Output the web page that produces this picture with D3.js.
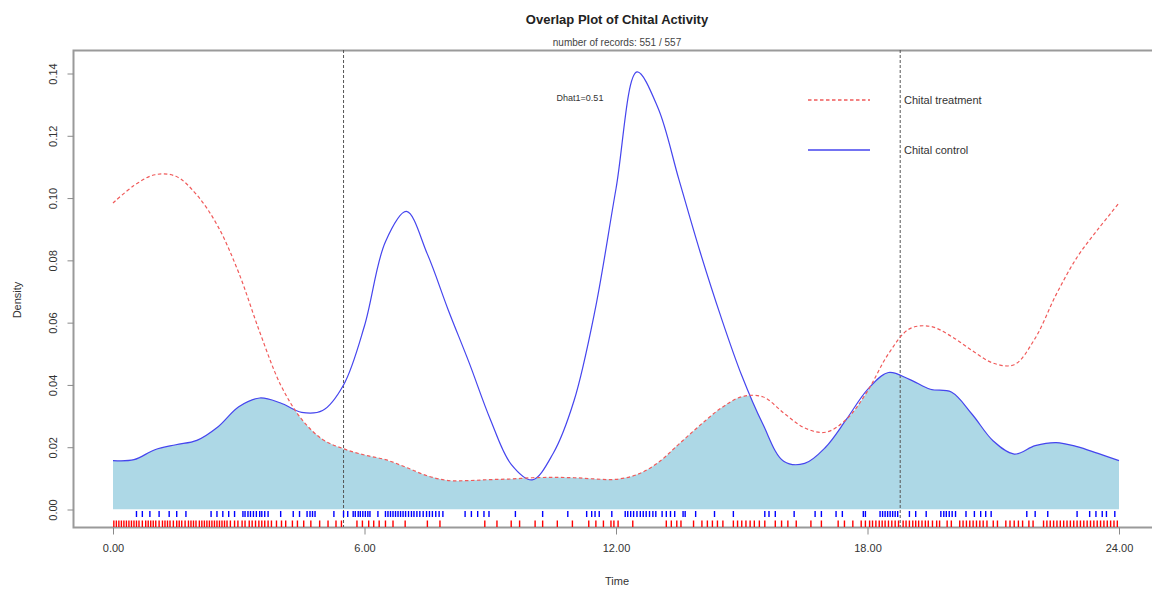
<!DOCTYPE html>
<html>
<head>
<meta charset="utf-8">
<script src="https://cdn.jsdelivr.net/npm/d3@7"></script>
<style>
  html, body { margin: 0; padding: 0; background: #fff; }
  svg { display: block; font-family: "Liberation Sans", Arial, sans-serif; }
</style>
</head>
<body>
<svg id="chart" width="1152" height="596"></svg>
<script>
// Kernel density estimates on a half-hour grid (hours 0..24)
const hours = [0,0.5,1,1.5,2,2.5,3,3.5,4,4.5,5,5.5,6,6.5,7,7.5,8,8.5,9,9.5,10,10.5,11,11.5,12,
  12.5,13,13.5,14,14.5,15,15.5,16,16.5,17,17.5,18,18.5,19,19.5,20,20.5,21,21.5,22,22.5,23,23.5,24];

const treatmentDensity = [0.0984,0.1040,0.1075,0.1070,0.1010,0.0910,0.0760,0.0570,0.0400,0.0290,
  0.0225,0.0195,0.0175,0.0160,0.0135,0.0108,0.0093,0.0093,0.0096,0.0098,0.0102,0.0103,0.0102,0.0098,
  0.0097,0.0112,0.0150,0.0210,0.0270,0.0325,0.0362,0.0362,0.0310,0.0262,0.0248,0.0290,0.0380,0.0500,
  0.0580,0.0588,0.0556,0.0510,0.0470,0.0465,0.0550,0.0690,0.0810,0.0900,0.0984];

const controlDensity = [0.0157,0.0160,0.0192,0.0208,0.0222,0.0265,0.0330,0.0358,0.0342,0.0312,
  0.0318,0.0400,0.0590,0.0860,0.0957,0.0820,0.0640,0.0470,0.0290,0.0145,0.0095,0.0180,0.0350,0.0640,
  0.1030,0.1405,0.1290,0.1060,0.0830,0.0620,0.0430,0.0275,0.0155,0.0148,0.0200,0.0290,0.0385,0.0440,
  0.0418,0.0386,0.0377,0.0305,0.0220,0.0178,0.0205,0.0215,0.0202,0.0180,0.0157];

// Observation times (hours) for the rug plots
const controlTimes = [0.56,0.70,0.88,1.10,1.34,1.52,1.74,2.34,2.48,2.62,2.76,2.90,3.10,3.15,3.22,3.28,
  3.35,3.42,3.50,3.55,3.62,3.70,4.00,4.30,4.45,4.63,4.70,4.76,4.82,5.27,5.50,5.60,5.73,5.78,5.85,5.90,
  5.96,6.02,6.08,6.13,6.32,6.50,6.56,6.62,6.68,6.74,6.80,6.86,6.92,6.98,7.05,7.12,7.18,7.25,7.32,7.40,
  7.48,7.55,7.62,7.70,7.78,7.87,8.40,8.55,8.70,8.85,8.97,9.60,10.25,10.85,11.30,11.42,11.50,11.60,11.90,
  12.22,12.28,12.35,12.42,12.50,12.58,12.65,12.72,12.80,12.88,12.95,13.10,13.20,13.30,13.40,13.60,13.65,
  13.90,14.35,14.80,15.55,15.65,15.80,16.25,16.75,16.90,17.25,17.40,17.90,17.95,18.30,18.36,18.42,18.48,
  18.54,18.60,18.66,18.72,19.00,19.15,19.40,19.75,19.82,19.88,19.95,20.02,20.10,20.35,20.55,20.70,20.82,
  20.95,21.80,22.00,22.30,23.00,23.30,23.45,23.60,23.70,23.90];

const treatmentTimes = [0.02,0.08,0.14,0.20,0.26,0.32,0.38,0.44,0.50,0.56,0.62,0.70,0.78,0.84,0.90,0.96,
  1.02,1.10,1.18,1.24,1.30,1.36,1.44,1.52,1.58,1.64,1.72,1.80,1.86,1.92,1.98,2.06,2.12,2.18,2.24,2.30,
  2.36,2.42,2.48,2.54,2.60,2.66,2.72,2.80,2.90,2.98,3.08,3.15,3.25,3.32,3.40,3.48,3.55,3.62,3.70,3.78,
  3.90,4.02,4.12,4.28,4.40,4.55,4.72,4.93,5.13,5.32,5.45,5.82,5.95,6.10,6.22,6.35,6.50,6.68,6.97,7.50,
  7.80,8.87,9.16,9.50,9.70,10.07,10.25,10.60,10.96,11.35,11.52,11.70,11.88,11.95,12.05,12.40,13.20,13.32,
  13.45,13.55,13.85,14.05,14.18,14.30,14.42,14.55,14.80,14.90,15.00,15.10,15.20,15.30,15.42,15.55,15.80,
  15.95,16.10,16.30,16.65,16.90,17.30,17.45,17.65,17.85,17.95,18.05,18.12,18.20,18.28,18.35,18.42,18.50,
  18.58,18.66,18.74,18.85,18.92,19.00,19.08,19.15,19.22,19.30,19.38,19.45,19.55,19.65,19.72,19.90,20.00,
  20.20,20.28,20.36,20.44,20.52,20.60,20.68,20.76,20.85,21.00,21.10,21.30,21.40,21.50,21.60,21.70,21.85,
  21.95,22.20,22.28,22.36,22.44,22.52,22.60,22.68,22.76,22.84,22.92,23.00,23.08,23.16,23.24,23.32,23.40,
  23.48,23.56,23.64,23.72,23.80,23.88,23.96];

// Sunrise / sunset reference times
const referenceTimes = [5.5, 18.78];

const xTicks = [0, 6, 12, 18, 24];
const yTicks = [0, 0.02, 0.04, 0.06, 0.08, 0.10, 0.12, 0.14];
const seriesNames = ["Chital treatment", "Chital control"];
const overlapLabel = "Dhat1=0.51";

const svg = d3.select("#chart");
const x = d3.scaleLinear().domain([0, 24]).range([113, 1119]);
const y = d3.scaleLinear().domain([0, 0.14]).range([509.5, 73.5]);

const curve = d3.curveCatmullRom.alpha(0.5);
const treatment = hours.map((h, i) => ({ h, v: treatmentDensity[i] }));
const control = hours.map((h, i) => ({ h, v: controlDensity[i] }));

const area = d3.area().x(d => x(d.h)).y0(y(0)).y1(d => y(d.v)).curve(curve);
const line = d3.line().x(d => x(d.h)).y(d => y(d.v)).curve(curve);

// Overlap region: area under treatment clipped to area under control
svg.append("clipPath").attr("id", "under-control")
  .append("path").attr("d", area(control));
svg.append("path")
  .attr("d", area(treatment))
  .attr("clip-path", "url(#under-control)")
  .attr("fill", "#add8e6");

// Plot frame
svg.append("path").attr("d", "M1160,50.5H73.5V527.5H1160")
  .attr("fill", "none").attr("stroke", "#9a9a9a").attr("stroke-width", 2);

// Reference lines
svg.selectAll(".ref").data(referenceTimes).join("line")
  .attr("x1", d => x(d)).attr("x2", d => x(d))
  .attr("y1", 50).attr("y2", 527)
  .attr("stroke", "#555").attr("stroke-width", 1).attr("stroke-dasharray", "3,2");

// Density curves
svg.append("path").attr("d", line(control))
  .attr("fill", "none").attr("stroke", "#4545ee").attr("stroke-width", 1.2);
svg.append("path").attr("d", line(treatment))
  .attr("fill", "none").attr("stroke", "#f05a5a").attr("stroke-width", 1.2)
  .attr("stroke-dasharray", "3.5,2.5");

// Rugs
svg.append("g").selectAll("line").data(controlTimes).join("line")
  .attr("x1", d => x(d)).attr("x2", d => x(d))
  .attr("y1", 511).attr("y2", 517)
  .attr("stroke", "#0000ff").attr("stroke-width", 1.4);
svg.append("g").selectAll("line").data(treatmentTimes).join("line")
  .attr("x1", d => x(d)).attr("x2", d => x(d))
  .attr("y1", 520.5).attr("y2", 527)
  .attr("stroke", "#ff0000").attr("stroke-width", 1.4);

// Axes
const fmt = d3.format(".2f");
const xAxis = svg.append("g").attr("transform", "translate(0,527.5)")
  .call(d3.axisBottom(x).tickValues(xTicks).tickFormat(fmt).tickSize(7).tickPadding(10));
const yAxis = svg.append("g").attr("transform", "translate(73.5,0)")
  .call(d3.axisLeft(y).tickValues(yTicks).tickFormat(fmt).tickSize(6));
[xAxis, yAxis].forEach(g => {
  g.select(".domain").remove();
  g.selectAll(".tick line").attr("stroke", "#8a8a8a");
  g.selectAll(".tick text").attr("fill", "#333").style("font-size", "11px")
    .style("font-family", "'Liberation Sans', Arial, sans-serif");
});
yAxis.selectAll(".tick text")
  .attr("x", 0).attr("dy", 0)
  .attr("text-anchor", "middle")
  .attr("transform", "translate(-19,0) rotate(-90)")
  .attr("dominant-baseline", "middle");

// Axis titles
svg.append("text").attr("x", 617).attr("y", 585).attr("text-anchor", "middle")
  .attr("fill", "#333").style("font-size", "11px").text("Time");
svg.append("text").attr("transform", "translate(21,300) rotate(-90)").attr("text-anchor", "middle")
  .attr("fill", "#333").style("font-size", "11px").text("Density");

// Titles
svg.append("text").attr("x", 617).attr("y", 24).attr("text-anchor", "middle")
  .attr("fill", "#222").style("font-size", "13px").style("font-weight", "bold")
  .text("Overlap Plot of Chital Activity");
svg.append("text").attr("x", 617).attr("y", 46).attr("text-anchor", "middle")
  .attr("fill", "#444").style("font-size", "10px")
  .text("number of records: 551 / 557");

// Overlap coefficient label
svg.append("text").attr("x", 580).attr("y", 101).attr("text-anchor", "middle")
  .attr("fill", "#333").style("font-size", "9px").text(overlapLabel);

// Legend
const legendRows = [
  { name: seriesNames[0], color: "#f05a5a", dash: "3.5,2.5", yy: 100 },
  { name: seriesNames[1], color: "#4545ee", dash: null, yy: 150 }
];
const legend = svg.append("g");
legendRows.forEach(r => {
  legend.append("line").attr("x1", 808).attr("x2", 870).attr("y1", r.yy).attr("y2", r.yy)
    .attr("stroke", r.color).attr("stroke-width", 1.3).attr("stroke-dasharray", r.dash);
  legend.append("text").attr("x", 904).attr("y", r.yy + 1).attr("dominant-baseline", "middle")
    .attr("fill", "#333").style("font-size", "11px").text(r.name);
});
</script>
</body>
</html>
